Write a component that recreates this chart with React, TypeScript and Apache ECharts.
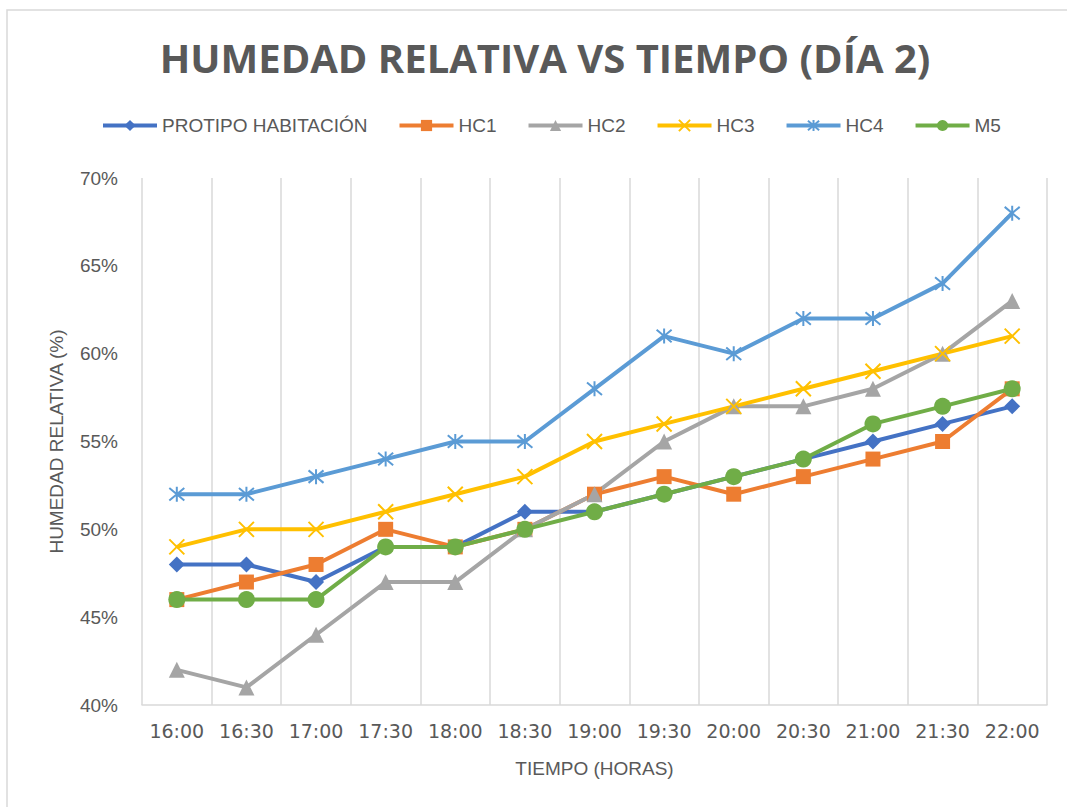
import React, { useEffect, useRef } from "react";
import * as echarts from "echarts";

const categories = ["16:00", "16:30", "17:00", "17:30", "18:00", "18:30", "19:00", "19:30", "20:00", "20:30", "21:00", "21:30", "22:00"];
const protipo = [48, 48, 47, 49, 49, 51, 51, 52, 53, 54, 55, 56, 57];
const hc1 = [46, 47, 48, 50, 49, 50, 52, 53, 52, 53, 54, 55, 58];
const hc2 = [42, 41, 44, 47, 47, 50, 52, 55, 57, 57, 58, 60, 63];
const hc3 = [49, 50, 50, 51, 52, 53, 55, 56, 57, 58, 59, 60, 61];
const hc4 = [52, 52, 53, 54, 55, 55, 58, 61, 60, 62, 62, 64, 68];
const m5 = [46, 46, 46, 49, 49, 50, 51, 52, 53, 54, 56, 57, 58];

const seriesNames = ["PROTIPO HABITACIÓN", "HC1", "HC2", "HC3", "HC4", "M5"];
const colors = ["#4472C4", "#ED7D31", "#A5A5A5", "#FFC000", "#5B9BD5", "#70AD47"];

const X_SYMBOL = "path://M0,0L10,10M10,0L0,10";
const STAR_SYMBOL = "path://M0,0L10,10M10,0L0,10M5,-1L5,11";

export default function App() {
  const ref = useRef<HTMLDivElement>(null);
  useEffect(() => {
    if (!ref.current) return;
    const chart = echarts.init(ref.current, null, { renderer: "svg" });
    const textColor = "#595959";
    const font = "Liberation Sans";
    const mk = (i: number, data: number[], symbol: string, size: number, stroke = false) => ({
      name: seriesNames[i],
      type: "line",
      data,
      symbol,
      symbolSize: size,
      lineStyle: { color: colors[i], width: 4 },
      itemStyle: stroke
        ? { color: colors[i], borderColor: colors[i], borderWidth: 2 }
        : { color: colors[i], borderWidth: 0 },
      emphasis: { disabled: true },
    });
    chart.setOption({
      animation: false,
      backgroundColor: "#ffffff",
      title: {
        text: "HUMEDAD RELATIVA VS TIEMPO (DÍA 2)",
        left: 540,
        textAlign: "center",
        top: 32,
        textStyle: { color: textColor, fontSize: 40, fontWeight: "bold", fontFamily: "Open Sans" },
      },
      graphic: [
        {
          type: "rect",
          shape: { x: 7, y: 10, width: 1080, height: 820 },
          style: { fill: "none", stroke: "#D9D9D9", lineWidth: 1.5 },
          silent: true,
        },
      ],
      legend: {
        top: 111,
        left: 96,
        itemWidth: 54,
        itemHeight: 14,
        itemGap: 30,
        lineStyle: { width: 4 },
        textStyle: { color: textColor, fontSize: 19, fontFamily: font },
        data: seriesNames,
      },
      grid: { left: 142, right: 20, top: 178, bottom: 102, containLabel: false },
      xAxis: {
        type: "category",
        data: categories,
        boundaryGap: true,
        axisLine: { show: true, lineStyle: { color: "#D9D9D9", width: 1.5 } },
        axisTick: { show: false },
        splitLine: { show: true, lineStyle: { color: "#D9D9D9", width: 1.5 } },
        axisLabel: { color: textColor, fontSize: 19, fontFamily: "DejaVu Sans", margin: 16, interval: 0 },
        name: "TIEMPO (HORAS)",
        nameLocation: "middle",
        nameGap: 54,
        nameTextStyle: { color: textColor, fontSize: 19, fontFamily: font },
      },
      yAxis: {
        type: "value",
        min: 40,
        max: 70,
        interval: 5,
        axisLine: { show: false },
        axisTick: { show: false },
        splitLine: { show: false },
        axisLabel: { color: textColor, fontSize: 19, fontFamily: font, margin: 24, formatter: "{value}%" },
        name: "HUMEDAD RELATIVA (%)",
        nameLocation: "middle",
        nameGap: 76,
        nameTextStyle: { color: textColor, fontSize: 19, fontFamily: font },
      },
      series: [
        mk(0, protipo, "diamond", 16),
        mk(1, hc1, "rect", 15),
        mk(2, hc2, "triangle", 16),
        mk(3, hc3, X_SYMBOL, 15, true),
        mk(4, hc4, STAR_SYMBOL, 15, true),
        mk(5, m5, "circle", 17),
      ],
    });
    return () => chart.dispose();
  }, []);
  return <div ref={ref} style={{ position: "absolute", left: 0, top: 0, width: 1067, height: 807 }} />;
}
